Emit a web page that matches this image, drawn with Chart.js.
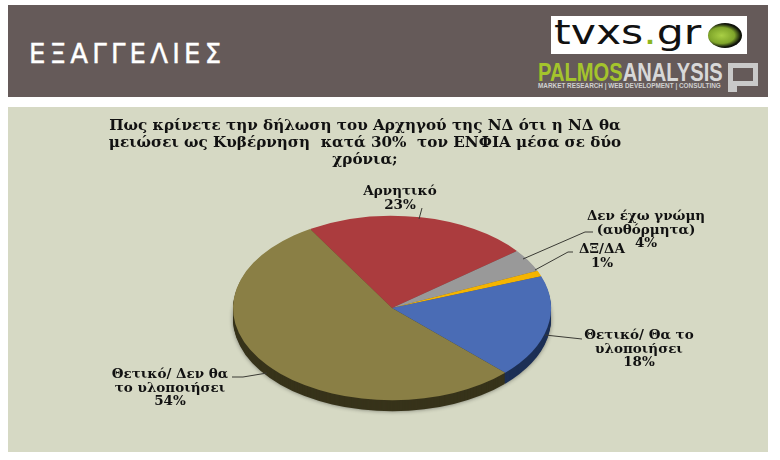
<!DOCTYPE html>
<html>
<head>
<meta charset="utf-8">
<script src="https://cdn.jsdelivr.net/npm/chart.js@4"></script>
<style>
  html, body { margin: 0; padding: 0; background: #fff; }
  #page { position: relative; width: 780px; height: 460px; overflow: hidden; background: #fff; filter: blur(0.4px); }
  #head { position: absolute; left: 8px; top: 5px; width: 760px; height: 92px; background: #655a59; }
  #headTitle { position: absolute; left: 29px; top: 39px; color: #fff; font: 26px/30px "DejaVu Sans", sans-serif; letter-spacing: 4.2px; white-space: nowrap; -webkit-text-stroke: 0.4px #fff; }
  #tvxs { position: absolute; left: 551px; top: 16px; width: 196px; height: 38px; background: #fff; overflow: hidden; }
  #tvxsText { position: absolute; left: 3px; top: 0; color: #111; font: 33px/34px "DejaVu Sans", sans-serif; white-space: nowrap;
    transform: scaleX(1.29); transform-origin: left top; }
  #tvxsText b { font-weight: normal; color: #8cb51e; }
  #globe { position: absolute; left: 157px; top: 7px; width: 34px; height: 25px; border-radius: 50%;
    background: radial-gradient(ellipse at 40% 50%, #a9cf45 0, #7fa52a 45%, #10140a 66%, #050505 100%); }
  #palmos { position: absolute; left: 538px; top: 59px; font: bold 26px/26px "Liberation Sans", sans-serif; white-space: nowrap;
    transform: scaleX(0.775); transform-origin: left top; }
  #palmos i { font-style: normal; color: #a4c42c; }
  #palmos u { text-decoration: none; color: #d8d8d8; }
  #tag { position: absolute; left: 538px; top: 82px; font: bold 6.4px/8px "Liberation Sans", sans-serif; color: #d0d0d0; white-space: nowrap; }
  #mark { position: absolute; left: 728px; top: 63px; width: 30px; height: 23px; border: 5px solid #c9c9c9; box-sizing: border-box; }
  #stem { position: absolute; left: 728px; top: 85px; width: 9px; height: 7px; background: #c9c9c9; }
  #panel { position: absolute; left: 8px; top: 107px; width: 760px; height: 345px; background: #d6d9c4; }
  #wrap { position: absolute; left: 0; top: 0; width: 780px; height: 460px; }
</style>
</head>
<body>
<div id="page">
  <div id="head"></div>
  <div id="headTitle">ΕΞΑΓΓΕΛΙΕΣ</div>
  <div id="tvxs"><span id="tvxsText">tvxs<b>.</b>gr</span><div id="globe"></div></div>
  <div id="palmos"><i>PALMOS</i><u>ANALYSIS</u></div>
  <div id="tag">MARKET RESEARCH | WEB DEVELOPMENT | CONSULTING</div>
  <div id="mark"></div>
  <div id="stem"></div>
  <div id="panel"></div>
  <div id="wrap"><canvas id="chart"></canvas></div>
</div>
<script>
const titleLines = [
  'Πως κρίνετε την δήλωση του Αρχηγού της ΝΔ ότι η ΝΔ θα',
  'μειώσει ως Κυβέρνηση  κατά 30%  τον ΕΝΦΙΑ μέσα σε δύο',
  'χρόνια;'
];
const categories = ['Αρνητικό', 'Δεν έχω γνώμη (αυθόρμητα)', 'ΔΞ/ΔΑ', 'Θετικό/ Θα το υλοποιήσει', 'Θετικό/ Δεν θα το υλοποιήσει'];
const values = [23, 4, 1, 18, 54];
const sliceColors = ['#ab3c3e', '#999999', '#f5b400', '#4a6cb5', '#8a7f45'];
const sideColors = ['#6b2526', '#5c5c5c', '#8f6a00', '#1c2f55', '#37331a'];
const labelLines = [
  ['Αρνητικό', '23%'],
  ['Δεν έχω γνώμη', '(αυθόρμητα)', '4%'],
  ['ΔΞ/ΔΑ', '1%'],
  ['Θετικό/ Θα το', 'υλοποιήσει', '18%'],
  ['Θετικό/ Δεν θα', 'το υλοποιήσει', '54%']
];
// label centre x, first baseline y, then the leader line as pairs
const labelPos = [
  { x: 400, y: 195, line: [[422, 208], [419, 219]] },
  { x: 646, y: 220, line: [[523, 259], [585, 232], [593, 232]] },
  { x: 602, y: 253, line: [[535, 270], [568, 252], [573, 252]] },
  { x: 639, y: 339, line: [[545, 335], [582, 339]] },
  { x: 170, y: 378, line: [[267, 373], [243, 377], [232, 377]] }
];

const SQUASH = 0.58;
const DEPTH = 11;
const CENTER_Y = 308;
const TITLE_CENTER_X = 365;

// the pie is drawn flat by the library, this tips it over and puts a rim under it
const tiltPlugin = {
  id: 'tilt',
  afterLayout(chart) {
    // title sits left of the pie in the original
    chart.titleBlock.left = 0;
    chart.titleBlock.right = TITLE_CENTER_X * 2;
  },
  beforeDatasetsDraw(chart) {
    const ctx = chart.ctx;
    const arcs = chart.getDatasetMeta(0).data;
    const cy = arcs[0].y;
    ctx.save();
    ctx.translate(0, CENTER_Y - cy * SQUASH);
    ctx.scale(1, SQUASH);
    for (let d = DEPTH; d > 0; d--) {
      ctx.shadowColor = d === DEPTH ? 'rgba(0,0,0,0.45)' : 'transparent';
      ctx.shadowBlur = d === DEPTH ? 4 : 0;
      arcs.forEach((a, i) => {
        ctx.beginPath();
        ctx.moveTo(a.x, a.y + d / SQUASH);
        ctx.arc(a.x, a.y + d / SQUASH, a.outerRadius, a.startAngle, a.endAngle);
        ctx.closePath();
        ctx.fillStyle = sideColors[i];
        ctx.fill();
      });
    }
    ctx.shadowColor = 'transparent';
    ctx.shadowBlur = 0;
  },
  afterDatasetsDraw(chart) {
    chart.ctx.restore();
    drawLabels(chart);
  }
};

function drawLabels(chart) {
  const ctx = chart.ctx;
  ctx.save();
  ctx.strokeStyle = '#3a3a34';
  ctx.lineWidth = 1;
  labelPos.forEach((p, i) => {
    ctx.beginPath();
    p.line.forEach((pt, k) => k ? ctx.lineTo(pt[0], pt[1]) : ctx.moveTo(pt[0], pt[1]));
    ctx.stroke();
    ctx.fillStyle = '#111';
    ctx.font = 'bold 13.5px "DejaVu Serif", serif';
    ctx.textAlign = 'center';
    labelLines[i].forEach((t, k) => ctx.fillText(t, p.x, p.y + k * 13.5));
  });
  ctx.restore();
}

new Chart(document.getElementById('chart'), {
  type: 'doughnut',
  data: {
    labels: categories,
    datasets: [{
      data: values,
      backgroundColor: sliceColors,
      borderWidth: 0,
      clip: false
    }]
  },
  options: {
    responsive: true,
    maintainAspectRatio: false,
    animation: false,
    cutout: 0,
    radius: 159,
    rotation: -31,
    layout: { padding: { top: 117, left: 4, bottom: 10 } },
    plugins: {
      legend: { display: false },
      tooltip: { enabled: false },
      title: {
        display: true,
        text: titleLines,
        color: '#111',
        align: 'center',
        font: { family: '"DejaVu Serif", serif', weight: 'bold', size: 15.2, lineHeight: 1.13 },
        padding: { top: 0, bottom: 4 }
      }
    }
  },
  plugins: [tiltPlugin]
});
</script>
</body>
</html>
